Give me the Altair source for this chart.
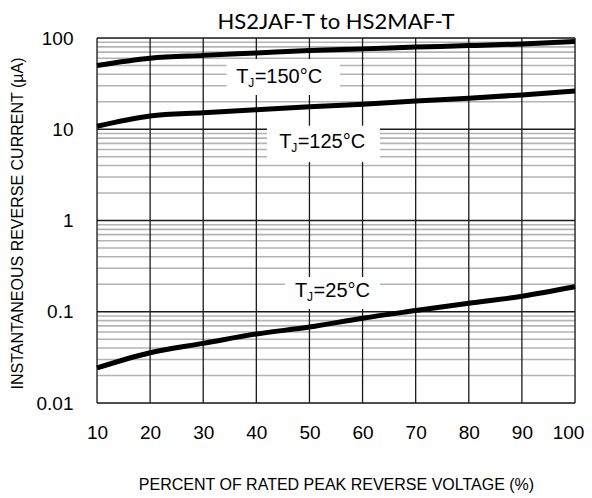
import altair as alt
import pandas as pd

# ---- data ----
pct = [10, 20, 30, 40, 50, 60, 70, 80, 90, 100]
i_150 = [50.0, 60.0, 64.5, 68.5, 73.0, 76.0, 79.5, 82.5, 86.0, 91.5]
i_125 = [10.8, 14.0, 15.2, 16.4, 17.6, 18.8, 20.4, 21.9, 23.8, 26.3]
i_25 = [0.0242, 0.0355, 0.045, 0.057, 0.068, 0.085, 0.103, 0.124, 0.148, 0.188]

x_ticks = [10, 20, 30, 40, 50, 60, 70, 80, 90, 100]
y_decades = [0.01, 0.1, 1, 10, 100]
y_minor = [k * d for d in [0.01, 0.1, 1, 10] for k in range(2, 10)]

chart_title = ["HS2JAF-T to HS2MAF-T"]
labels = ["150", "125", "25"]
label_x = [36.2, 44.3, 47.3]
label_y = [37.5, 7.16, 0.169]
box_x1 = [34.4, 42.0, 45.4]
box_x2 = [55.75, 63.3, 63.3]
box_y1 = [58.9, 10.9, 0.24]
box_y2 = [23.7, 4.38, 0.107]

# ---- tables ----
curves = pd.DataFrame({
    "pct": pct * 3,
    "cur": i_150 + i_125 + i_25,
    "series": ["150"] * 10 + ["125"] * 10 + ["25"] * 10,
})
ann = pd.DataFrame({
    "lab": labels, "tx": label_x, "ty": label_y,
    "x1": box_x1, "x2": box_x2, "y1": box_y1, "y2": box_y2,
    "rest": ["=" + t + "°C" for t in labels],
})

FONT = "Liberation Sans"
xs = alt.Scale(domain=[10, 100], nice=False, zero=False)
ys = alt.Scale(type="log", domain=[0.01, 100], nice=False)

x_axis = alt.Axis(values=x_ticks, grid=False, ticks=False, tickSize=0, domain=False,
                  labelFlush=False, labelOverlap=False, labelBound=False,
                  labelOffset={"condition": {"test": "datum.value == 100", "value": -7}, "value": 0},
                  labelFont=FONT, labelFontSize=19, labelColor="black", labelPadding=20,
                  labelBaseline="top",
                  title="PERCENT OF RATED PEAK REVERSE VOLTAGE (%)",
                  titleFont=FONT, titleFontSize=16, titleFontWeight="normal", titleColor="black",
                  titleX=239, titleY=81, titleAlign="center", titleBaseline="middle")
y_axis = alt.Axis(values=y_decades, format="~g", grid=False, ticks=False, tickSize=0, domain=False,
                  labelFlush=False, labelOverlap=False,
                  labelFont=FONT, labelFontSize=19, labelColor="black", labelPadding=24,
                  title="INSTANTANEOUS REVERSE CURRENT (µA)",
                  titleFont=FONT, titleFontSize=16, titleFontWeight="normal", titleColor="black",
                  titleAngle=270, titleX=-80, titleY=185, titleAlign="center", titleBaseline="middle")

minor = alt.Chart(pd.DataFrame({"v": y_minor})).mark_rule(
    color="#b3b3b3", strokeWidth=1.6).encode(y=alt.Y("v:Q", scale=ys, axis=y_axis))
vgrid = alt.Chart(pd.DataFrame({"v": x_ticks})).mark_rule(
    color="#1a1a1a", strokeWidth=1.3).encode(x=alt.X("v:Q", scale=xs, axis=x_axis))
hgrid = alt.Chart(pd.DataFrame({"v": y_decades})).mark_rule(
    color="#1a1a1a", strokeWidth=1.3).encode(y=alt.Y("v:Q", scale=ys))

boxes = alt.Chart(ann).mark_rect(color="white").encode(
    x=alt.X("x1:Q", scale=xs), x2="x2:Q",
    y=alt.Y("y1:Q", scale=ys), y2="y2:Q")

lines = alt.Chart(curves).mark_line(color="black", strokeWidth=5, interpolate="monotone").encode(
    x=alt.X("pct:Q", scale=xs), y=alt.Y("cur:Q", scale=ys), detail="series:N")

base_t = alt.Chart(ann).encode(x=alt.X("tx:Q", scale=xs), y=alt.Y("ty:Q", scale=ys))
t_T = base_t.mark_text(font=FONT, fontSize=20, align="left", baseline="middle", color="black").encode(
    text=alt.value("T"))
t_J = base_t.mark_text(font=FONT, fontSize=12, align="left", baseline="middle", color="black",
                       dx=12, dy=6).encode(text=alt.value("J"))
t_rest = base_t.mark_text(font=FONT, fontSize=20, align="left", baseline="middle", color="black",
                          dx=18.5).encode(text="rest:N")

title_mark = alt.Chart(pd.DataFrame({"t": chart_title})).mark_text(
    font="Lato", fontSize=22, align="center", baseline="alphabetic", color="black"
).encode(x=alt.value(239), y=alt.value(-9), text="t:N")

chart = alt.layer(minor, vgrid, hgrid, boxes, lines, t_T, t_J, t_rest, title_mark).properties(
    width=478, height=365,
    autosize=alt.AutoSizeParams(type="none"),
    padding={"left": 89, "top": 30, "right": 9, "bottom": 95},
).configure_view(stroke="black", strokeWidth=2).configure(background="white")

chart.save("out.html", embed_options={"renderer": "svg", "actions": False})
